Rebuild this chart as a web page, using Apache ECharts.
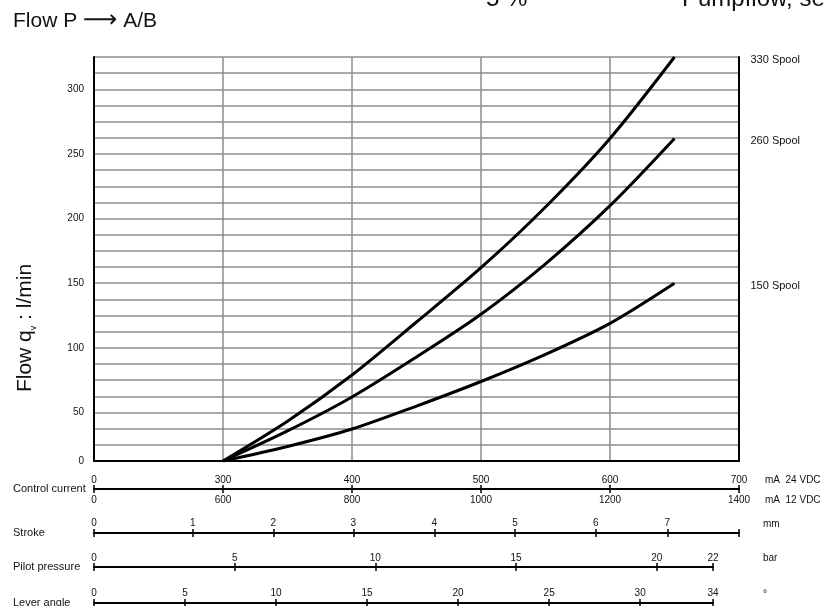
<!DOCTYPE html>
<html>
<head>
<meta charset="utf-8">
<script src="https://cdn.jsdelivr.net/npm/echarts@6/dist/echarts.min.js"></script>
<style>html,body{margin:0;padding:0;background:#fff;}#c{width:825px;height:606px;}</style>
</head>
<body>
<div id="c"></div>
<script>
// ---------- data ----------
const spoolNames = ['330 Spool', '260 Spool', '150 Spool'];
const currentMA = [300, 350, 400, 450, 500, 550, 600, 650];          // control current, mA (24 VDC)
const flow330 = [0, 41, 79, 120, 162, 209, 262, 325];                 // l/min
const flow260 = [0, 31, 62, 93, 126, 165, 210, 262];
const flow150 = [0, 15, 33, 55, 74, 95, 119, 150];

const flowTicks = [0, 50, 100, 150, 200, 250, 300];
const current24Ticks = [0, 300, 400, 500, 600, 700];
const current12Ticks = [0, 600, 800, 1000, 1200, 1400];
const strokeTicks = [0, 1, 2, 3, 4, 5, 6, 7];
const strokeCurrent = [0, 229.5, 339, 401, 463.8, 526.4, 588.9, 644.4]; // mA at which stroke is reached
const strokeEndCurrent = 700;
const pilotTicks = [0, 5, 10, 15, 20, 22];
const leverTicks = [0, 5, 10, 15, 20, 25, 30, 34];

// ---------- broken axes (0..300 mA and 0..50 l/min are compressed) ----------
const X_MIN = 200, X_MAX = 700, Y_MIN = 12.5, Y_MAX = 325;
const toX = v => v <= 300 ? X_MIN + v / 3 : v;
const toY = v => v <= 50 ? Y_MIN + v * (50 - Y_MIN) / 50 : v;

const FONT = "'Liberation Sans', Arial, Helvetica, sans-serif";
const TXT = '#111';
const GRID_GRAY = '#8c8c8c';

function lookup(positions, labels) {
  return function (v) {
    for (let i = 0; i < positions.length; i++) {
      if (Math.abs(positions[i] - v) < 1e-6) return String(labels[i]);
    }
    return '';
  };
}

const curPos = current24Ticks.map(toX);
const strokePos = strokeCurrent.map(toX);
const strokeTickPos = strokePos.concat([toX(strokeEndCurrent)]);
const yPos = flowTicks.map(toY);

function scaleAxes(gridIndex, min, max, tickPos, labelPos, fmt, unit, unitGap, labelMargin) {
  return [
    {
      gridIndex, type: 'value', position: 'top', min, max,
      axisLine: { show: true, onZero: false, lineStyle: { color: '#000', width: 2 } },
      axisTick: { show: true, customValues: tickPos, length: 4, lineStyle: { color: '#000', width: 1.5 } },
      axisLabel: { customValues: labelPos, formatter: fmt, margin: labelMargin, fontSize: 10, color: TXT, fontFamily: FONT },
      splitLine: { show: false },
      name: unit, nameLocation: 'end', nameGap: unitGap,
      nameTextStyle: { fontSize: 10, color: TXT, fontFamily: FONT, verticalAlign: 'bottom', padding: [0, 0, 4, 0] }
    },
    {
      gridIndex, type: 'value', position: 'bottom', min, max,
      axisLine: { show: false, onZero: false },
      axisTick: { show: true, customValues: tickPos, length: 4, lineStyle: { color: '#000', width: 1.5 } },
      axisLabel: { show: false },
      splitLine: { show: false }
    }
  ];
}

function nameAxis(gridIndex, name) {
  return {
    gridIndex, type: 'value', min: 0, max: 1, show: true,
    axisLine: { show: false }, axisTick: { show: false }, axisLabel: { show: false }, splitLine: { show: false },
    name, nameLocation: 'middle', nameRotate: 0, nameGap: 81,
    nameTextStyle: { align: 'left', verticalAlign: 'middle', fontSize: 11, color: TXT, fontFamily: FONT }
  };
}

// current axis: two label rows
const currentAxes = scaleAxes(1, X_MIN, X_MAX, curPos, curPos, lookup(curPos, current24Ticks), 'mA  24 VDC', 26, 4);
currentAxes[1].axisLabel = { show: true, customValues: curPos, formatter: lookup(curPos, current12Ticks), margin: 6, fontSize: 10, color: TXT, fontFamily: FONT };
currentAxes[1].name = 'mA  12 VDC';
currentAxes[1].nameLocation = 'end';
currentAxes[1].nameGap = 26;
currentAxes[1].nameTextStyle = { fontSize: 10, color: TXT, fontFamily: FONT, verticalAlign: 'top', padding: [6, 0, 0, 0] };

const strokeAxes = scaleAxes(2, X_MIN, X_MAX, strokeTickPos, strokePos, lookup(strokePos, strokeTicks), 'mm', 24, 5);
const pilotAxes = scaleAxes(3, 0, 22, pilotTicks, pilotTicks, v => String(v), 'bar', 50, 4);
const leverAxes = scaleAxes(4, 0, 34, leverTicks, leverTicks, v => String(v), '°', 50, 5);

const flows = [flow330, flow260, flow150];
const series = flows.map((f, k) => ({
  name: spoolNames[k],
  type: 'line',
  xAxisIndex: 0, yAxisIndex: 0,
  data: currentMA.map((c, i) => [toX(c), toY(f[i])]),
  showSymbol: false,
  smooth: 0.3,
  lineStyle: { color: '#000', width: 3 },
  endLabel: { show: true, formatter: spoolNames[k], distance: 76, offset: [0, 3], fontSize: 11, color: TXT, fontFamily: FONT },
  z: 5
}));

const option = {
  animation: false,
  backgroundColor: '#fff',
  textStyle: { fontFamily: FONT },
  grid: [
    { left: 94, top: 57, width: 645, height: 404 },
    { left: 94, top: 489, width: 645, height: 0 },
    { left: 94, top: 533, width: 645, height: 0 },
    { left: 94, top: 567, width: 619, height: 0 },
    { left: 94, top: 603, width: 619, height: 0 }
  ],
  xAxis: [
    {
      gridIndex: 0, type: 'value', min: X_MIN, max: X_MAX, interval: 100,
      axisLine: { show: true, onZero: false, lineStyle: { color: '#000', width: 2 } },
      axisTick: { show: false }, axisLabel: { show: false },
      splitLine: { show: true, showMinLine: false, showMaxLine: false, lineStyle: { color: GRID_GRAY, width: 1.5 } }
    }
  ].concat(currentAxes, strokeAxes, pilotAxes, leverAxes),
  yAxis: [
    {
      gridIndex: 0, type: 'value', min: Y_MIN, max: Y_MAX, interval: 12.5,
      axisLine: { show: true, onZero: false, lineStyle: { color: '#000', width: 2 } },
      axisTick: { show: false },
      axisLabel: { customValues: yPos, formatter: lookup(yPos, flowTicks), margin: 10, fontSize: 10, color: TXT, fontFamily: FONT },
      splitLine: { show: true, showMinLine: false, lineStyle: { color: GRID_GRAY, width: 1.5 } }
    },
    {
      gridIndex: 0, type: 'value', position: 'right', min: Y_MIN, max: Y_MAX,
      axisLine: { show: true, onZero: false, lineStyle: { color: '#000', width: 2 } },
      axisTick: { show: false }, axisLabel: { show: false }, splitLine: { show: false }
    },
    nameAxis(1, 'Control current'),
    nameAxis(2, 'Stroke'),
    nameAxis(3, 'Pilot pressure'),
    nameAxis(4, 'Lever angle')
  ],
  graphic: [
    {
      type: 'text', left: 13, top: 9,
      style: {
        text: '{t|Flow P }{a|⟶}{t| A/B}',
        rich: {
          t: { fontSize: 21, fontFamily: FONT, fill: TXT },
          a: { fontSize: 24, fontFamily: "'DejaVu Sans', sans-serif", fill: TXT }
        }
      }
    },
    {
      type: 'text', x: 25, y: 328, rotation: Math.PI / 2,
      style: {
        text: '{t|Flow q}{s|v}{t| : l/min}',
        align: 'center', verticalAlign: 'middle',
        rich: {
          t: { fontSize: 21, fontFamily: FONT, fill: TXT, lineHeight: 26 },
          s: { fontSize: 9, fontFamily: FONT, fill: TXT, lineHeight: 12, verticalAlign: 'bottom' }
        }
      }
    },
    { type: 'text', x: 486, y: -1, style: { text: '5 %', fontSize: 24, fontFamily: FONT, fill: TXT, verticalAlign: 'middle' } },
    { type: 'text', x: 682, y: -1, style: { text: 'Pumpflow, see', fontSize: 24, fontFamily: FONT, fill: TXT, verticalAlign: 'middle' } }
  ],
  series
};

const chart = echarts.init(document.getElementById('c'), null, { renderer: 'canvas' });
chart.setOption(option);
</script>
</body>
</html>
